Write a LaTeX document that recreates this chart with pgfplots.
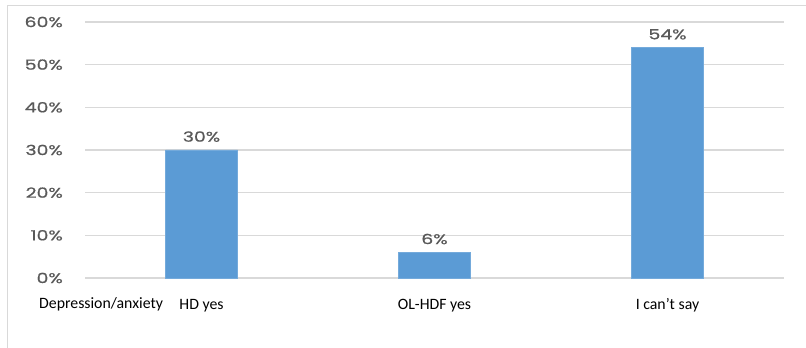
\documentclass[border=0pt]{standalone}
\usepackage{pgfplots}
\pgfplotsset{compat=1.18}
\usepackage{fontspec}
\setmainfont{Carlito}
\newfontfamily\numfont[FakeStretch=1.35, FakeBold=0.8]{Poppins}
\definecolor{barblue}{HTML}{5B9BD5}
\definecolor{gridgray}{HTML}{D9D9D9}
\definecolor{labgray}{HTML}{595959}
\definecolor{framegray}{HTML}{D9D9D9}

\begin{document}
\begin{tikzpicture}[x=1pt,y=1pt]
  \useasboundingbox (0,0) rectangle (806,348);
  % outer chart frame
  \draw[framegray, line width=0.8pt] (7,0) -- (7,343) -- (806,343);
  \begin{axis}[
      at={(85pt,70pt)}, anchor=south west,
      scale only axis,
      width=699pt, height=256pt,
      xmin=-0.5, xmax=2.5,
      ymin=0, ymax=60,
      xtick=data,
      xticklabels={HD yes, OL-HDF yes, I can’t say},
      ytick={0,10,20,30,40,50,60},
      yticklabel={\pgfmathprintnumber{\tick}\%},
      /pgf/number format/assume math mode=true,
      axis line style={draw=none},
      major tick length=0pt,
      ymajorgrids,
      grid style={gridgray, line width=1.2pt},
      xticklabel style={font=\fontsize{15.8}{17}\selectfont, text=black,
        anchor=north, inner sep=0pt, text height=10pt, text depth=3pt, yshift=-21pt},
      yticklabel style={font=\numfont\fontsize{14}{16}\selectfont, text=labgray,
        anchor=east, inner sep=0pt, xshift=-22pt},
      ybar, bar width=72pt,
      nodes near coords={\pgfmathprintnumber{\pgfplotspointmeta}\%},
      every node near coord/.append style={font=\numfont\fontsize{14}{16}\selectfont,
        text=labgray, /pgf/number format/assume math mode=true, yshift=4.5pt},
      clip=false,
    ]
    \addplot[fill=barblue, draw=barblue!85!white, line width=0.6pt]
      coordinates {(0,30) (1,6) (2,54)};
  \end{axis}
  \node[anchor=base west, inner sep=0pt, font=\fontsize{15.8}{17}\selectfont] at (39,39) {Depression/anxiety};
\end{tikzpicture}
\end{document}
